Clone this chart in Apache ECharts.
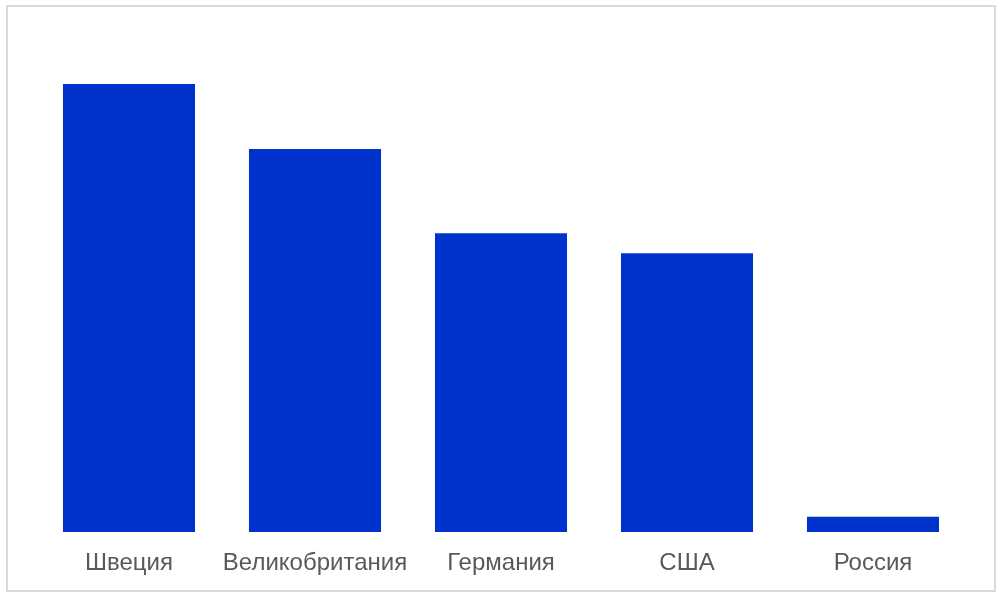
<!DOCTYPE html>
<html>
<head>
<meta charset="utf-8">
<script src="https://cdn.jsdelivr.net/npm/echarts@6/dist/echarts.min.js"></script>
<style>
  html, body { margin: 0; padding: 0; background: #fff; }
  #frame {
    position: absolute; left: 6px; top: 5px; width: 986px; height: 583px;
    border: 2px solid #d9d9d9; box-sizing: content-box;
  }
  #chart { position: absolute; left: 0; top: 0; width: 1002px; height: 597px; }
</style>
</head>
<body>
<div id="frame"></div>
<div id="chart"></div>
<script>
// страны
const countries = ['Швеция', 'Великобритания', 'Германия', 'США', 'Россия'];
// значения (в относительных единицах)
const values = [100, 85.5, 66.7, 62.2, 3.4];

const chart = echarts.init(document.getElementById('chart'));
chart.setOption({
    animation: false,
    grid: { left: 36, right: 36, top: 84, bottom: 65 },
    xAxis: {
        type: 'category',
        data: countries,
        axisLine: { show: false },
        axisTick: { show: false },
        axisLabel: {
            color: '#595959',
            fontFamily: 'Liberation Sans, Arial, sans-serif',
            fontSize: 24,
            margin: 19,
            interval: 0
        }
    },
    yAxis: {
        type: 'value',
        min: 0,
        max: 100,
        show: false,
        splitLine: { show: false }
    },
    series: [{
        type: 'bar',
        data: values,
        barWidth: '71%',
        itemStyle: { color: '#0033cc' }
    }]
});
</script>
</body>
</html>
